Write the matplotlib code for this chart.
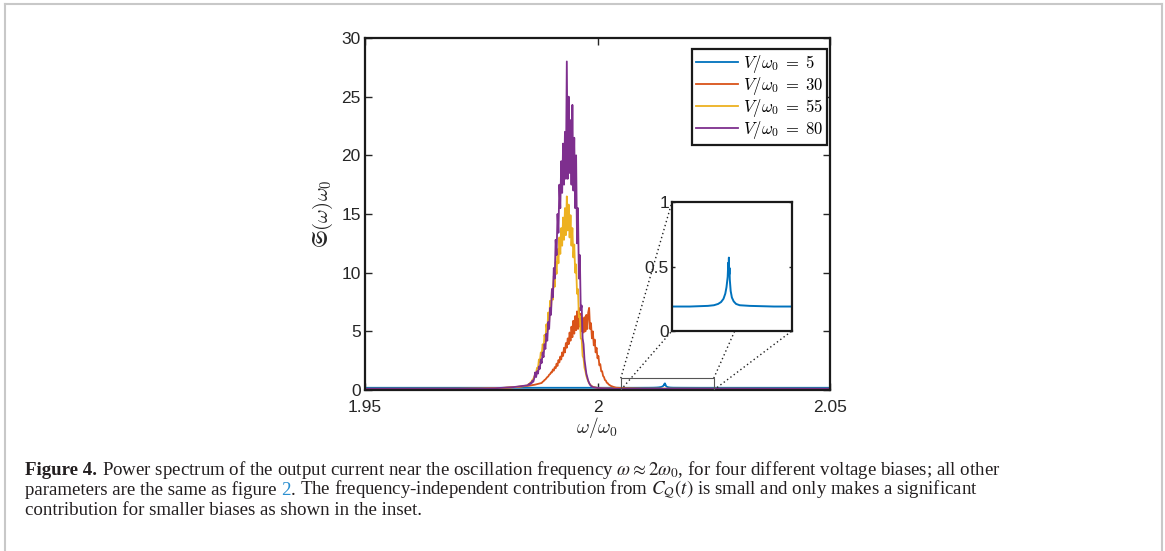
import matplotlib
matplotlib.use('Agg')
import matplotlib.pyplot as plt
from matplotlib.patches import Rectangle
from matplotlib.lines import Line2D

plt.rcParams['font.family'] = 'Liberation Sans'
plt.rcParams['mathtext.fontset'] = 'cm'

# ---------------- data ----------------
labels = [r'$V/\omega_0\;=\;5$', r'$V/\omega_0\;=\;30$', r'$V/\omega_0\;=\;55$', r'$V/\omega_0\;=\;80$']
colors = ['#0072BD', '#D95319', '#EDB120', '#7E2F8E']

# V/w0 = 5 : flat background with small peak (shown in inset)
x_v5 = [1.950, 2.000, 2.008, 2.011, 2.012, 2.0127, 2.0132, 2.0136, 2.0139, 2.0141,
        2.0143, 2.0144, 2.01445, 2.0145, 2.01455, 2.0146, 2.01465, 2.0148, 2.0150,
        2.0153, 2.0157, 2.0163, 2.018, 2.022, 2.050]
y_v5 = [0.19, 0.19, 0.19, 0.195, 0.20, 0.21, 0.225, 0.25, 0.29, 0.34,
        0.42, 0.53, 0.47, 0.57, 0.44, 0.49, 0.40, 0.31, 0.26,
        0.23, 0.21, 0.20, 0.195, 0.19, 0.19]

# V/w0 = 30
x_v30 = [1.950, 1.975, 1.980, 1.983, 1.985, 1.9865,
         1.9880, 1.9882, 1.9884, 1.9886, 1.9888, 1.9890, 1.9892, 1.9894, 1.9896, 1.9898,
         1.9900, 1.9902, 1.9904, 1.9906, 1.9908, 1.9910, 1.9912, 1.9914, 1.9916, 1.9918,
         1.9920, 1.9922, 1.9924, 1.9926, 1.9928, 1.9930, 1.9932, 1.9934, 1.9936, 1.9938,
         1.9940, 1.9942, 1.9944, 1.9946, 1.9948, 1.9950, 1.9952, 1.9954, 1.9956, 1.9958,
         1.9960, 1.9962, 1.9964, 1.9966, 1.9968, 1.9970, 1.9972, 1.9974, 1.9976, 1.9978,
         1.9980, 1.9982, 1.9984, 1.9986, 1.9988, 1.9990, 1.9992, 1.9994, 1.9996, 1.9998,
         2.0000, 2.0002, 2.0004, 2.0006, 2.0008, 2.0010, 2.0012, 2.0014, 2.0016, 2.0018,
         2.0020, 2.0022, 2.0024, 2.0026, 2.0028, 2.0030, 2.0034, 2.0038, 2.0040,
         2.006, 2.010, 2.050]
y_v30 = [0.10, 0.12, 0.18, 0.27, 0.35, 0.45,
         0.60, 0.70, 0.75, 0.85, 0.90, 1.00, 1.10, 1.15, 1.30, 1.35,
         1.50, 1.50, 1.75, 1.65, 1.95, 1.85, 2.25, 2.05, 2.55, 2.35,
         2.85, 2.60, 3.20, 2.90, 3.60, 3.20, 4.00, 3.60, 4.40, 3.90,
         4.90, 4.20, 5.40, 4.50, 5.90, 4.80, 6.30, 5.10, 6.70, 5.20,
         7.00, 5.40, 6.50, 5.00, 6.10, 4.90, 6.20, 5.00, 6.40, 5.20,
         6.60, 7.00, 5.20, 5.70, 4.40, 5.00, 3.80, 4.30, 3.20, 3.60,
         2.70, 2.90, 2.10, 2.20, 1.60, 1.60, 1.20, 1.10, 0.85, 0.80,
         0.62, 0.58, 0.47, 0.43, 0.36, 0.33, 0.27, 0.22, 0.20,
         0.15, 0.12, 0.10]

# V/w0 = 55
x_v55 = [1.950, 1.970, 1.975, 1.978, 1.980, 1.982, 1.983, 1.984,
         1.9850, 1.9852, 1.9854, 1.9856, 1.9858, 1.9860, 1.9862, 1.9864, 1.9866, 1.9868,
         1.9870, 1.9872, 1.9874, 1.9876, 1.9878, 1.9880, 1.9882, 1.9884, 1.9886, 1.9888,
         1.9890, 1.9892, 1.9894, 1.9896, 1.9898, 1.9900, 1.9902, 1.9904, 1.9906, 1.9908,
         1.9910, 1.9912, 1.9914, 1.9916, 1.9918, 1.9920, 1.9922, 1.9924, 1.9926, 1.9928,
         1.9930, 1.9932, 1.9934, 1.9936, 1.9938, 1.9940, 1.9942, 1.9944, 1.9946, 1.9948,
         1.9950, 1.9952, 1.9954, 1.9956, 1.9958, 1.9960, 1.9962, 1.9964, 1.9966, 1.9968,
         1.9970, 1.9972, 1.9974, 1.9976, 1.9978, 1.9980, 1.9982, 1.9984, 1.9986, 1.9988,
         1.9990, 2.000, 2.002, 2.005, 2.050]
y_v55 = [0.10, 0.10, 0.12, 0.15, 0.19, 0.24, 0.28, 0.33,
         0.40, 0.50, 0.55, 0.65, 0.70, 0.85, 0.95, 1.15, 1.30, 1.50,
         1.90, 1.85, 2.60, 2.40, 3.20, 3.00, 3.90, 3.50, 4.70, 4.20,
         5.60, 5.00, 6.60, 5.80, 7.60, 6.80, 8.60, 7.70, 9.70, 8.80,
         10.9, 9.90, 12.0, 10.8, 13.0, 11.6, 13.8, 12.3, 14.7, 12.8,
         15.5, 13.2, 16.5, 13.6, 15.8, 13.0, 14.9, 12.3, 13.8, 11.3,
         12.4, 10.0, 10.7, 8.20, 8.60, 6.20, 6.30, 4.40, 4.30, 2.90,
         2.70, 1.90, 1.60, 1.20, 0.95, 0.75, 0.58, 0.47, 0.39, 0.33,
         0.28, 0.18, 0.13, 0.10, 0.10]

# V/w0 = 80
x_v80 = [1.950, 1.970, 1.975, 1.978, 1.980, 1.982, 1.983, 1.984,
         1.9850, 1.9852, 1.9854, 1.9856, 1.9858, 1.9860, 1.9862, 1.9864, 1.9866, 1.9868,
         1.9870, 1.9872, 1.9874, 1.9876, 1.9878, 1.9880, 1.9882, 1.9884, 1.9886, 1.9888,
         1.9890, 1.9892, 1.9894, 1.9896, 1.9898, 1.9900, 1.9902, 1.9904, 1.9906, 1.9908,
         1.9910, 1.9912, 1.9914, 1.9916, 1.9918, 1.9920, 1.9922, 1.9924, 1.9926, 1.9928,
         1.9930, 1.9932, 1.9934, 1.9936, 1.9938, 1.9940, 1.9942, 1.9944, 1.9946, 1.9948,
         1.9950, 1.9952, 1.9954, 1.9956, 1.9958, 1.9960, 1.9962, 1.9964, 1.9966, 1.9968,
         1.9970, 1.9972, 1.9974, 1.9976, 1.9978, 1.9980, 1.9982, 1.9984, 1.9986, 1.9988,
         1.9990, 2.000, 2.002, 2.005, 2.050]
y_v80 = [0.10, 0.10, 0.12, 0.15, 0.20, 0.25, 0.30, 0.35,
         0.40, 0.50, 0.45, 0.60, 0.55, 0.80, 0.70, 1.00, 1.50, 1.10,
         1.60, 1.40, 2.00, 1.80, 2.60, 2.30, 3.20, 2.80, 3.90, 3.50,
         4.80, 4.20, 5.80, 5.20, 7.00, 6.40, 8.60, 7.90, 10.4, 9.50,
         12.8, 11.5, 15.0, 13.4, 17.5, 15.5, 19.5, 16.8, 21.0, 17.5,
         22.0, 18.0, 28.0, 18.0, 25.0, 18.5, 23.0, 17.5, 24.3, 17.0,
         21.5, 15.5, 20.0, 12.5, 15.5, 9.50, 11.5, 6.80, 7.20, 4.40,
         3.90, 2.60, 2.00, 1.40, 1.10, 0.80, 0.60, 0.45, 0.35, 0.30,
         0.25, 0.18, 0.13, 0.10, 0.10]

series_x = [x_v5, x_v30, x_v55, x_v80]
series_y = [y_v5, y_v30, y_v55, y_v80]

# zoom window shown in the inset
zoom_x = (2.005, 2.025)
zoom_y = (0, 1)

caption_1 = ("Power spectrum of the output current near the oscillation frequency "
             r"$\omega \approx 2\omega_0$, for four different voltage biases; all other")
caption_2a = "parameters are the same as figure"
caption_2b = ("The frequency-independent contribution from "
              r"$C_{\mathcal{Q}}(t)$ is small and only makes a significant")
caption_3 = "contribution for smaller biases as shown in the inset."

# ---------------- figure ----------------
W, H = 1165, 551
fig = plt.figure(figsize=(W / 100, H / 100), dpi=100)
ax = fig.add_axes([365 / W, 1 - 390 / H, 465 / W, 352 / H])

for xs, ys, c, lab in zip(series_x, series_y, colors, labels):
    ax.plot(xs, ys, color=c, lw=1.3, label=lab, zorder=2)

ax.set_xlim(1.95, 2.05)
ax.set_ylim(0, 30)
ax.set_xticks([1.95, 2.0, 2.05])
ax.set_xticklabels(['1.95', '2', '2.05'])
ax.set_yticks(range(0, 31, 5))
ax.tick_params(direction='in', top=True, right=True, length=5, width=1,
               labelsize=12.5, colors='#262626', pad=3)
ax.tick_params(axis='x', pad=7)
for sp in ax.spines.values():
    sp.set_linewidth(1.6)
    sp.set_color('#1a1a1a')

ax.set_xlabel(r'$\omega/\omega_0$', fontsize=14, color='#262626')
ax.xaxis.set_label_coords(0.5, -0.072)
ax.set_ylabel(r'$\mathfrak{S}(\omega)\omega_0$', fontsize=15, color='#262626')
ax.yaxis.set_label_coords(-0.064, 0.5)

leg = ax.legend(loc='upper right', bbox_to_anchor=(0.9935, 0.9688), borderaxespad=0,
                fontsize=12, frameon=True, fancybox=False, framealpha=1,
                edgecolor='#1a1a1a', handlelength=2.5, handletextpad=0.3,
                labelspacing=0.0, borderpad=0.25)
leg.get_frame().set_linewidth(1.6)

# zoom rectangle
ax.add_patch(Rectangle((zoom_x[0], zoom_y[0]), zoom_x[1] - zoom_x[0], zoom_y[1] - zoom_y[0],
                       fill=False, ec='#555555', lw=0.8, zorder=4))

# inset axes (placed in data coords of the main axes)
ins_box = [2.016, 5.03, 0.0258, 10.97]
axins = ax.inset_axes(ins_box, transform=ax.transData, zorder=5)
axins.plot(x_v5, y_v5, color=colors[0], lw=1.4)
axins.set_xlim(*zoom_x)
axins.set_ylim(*zoom_y)
axins.set_xticks([])
axins.set_yticks([0, 0.5, 1])
axins.set_yticklabels(['0', '0.5', '1'])
axins.tick_params(direction='in', right=True, length=2, width=1,
                  labelsize=12.5, colors='#262626', pad=2)
for sp in axins.spines.values():
    sp.set_linewidth(1.6)
    sp.set_color('#1a1a1a')

# dotted connector lines (rect corners -> inset corners)
x0, y0, w, h = ins_box
corners_rect = [(zoom_x[0], zoom_y[1]), (zoom_x[0], zoom_y[0]),
                (zoom_x[1], zoom_y[1]), (zoom_x[1], zoom_y[0])]
corners_ins = [(x0, y0 + h), (x0, y0), (x0 + w, y0 + h), (x0 + w, y0)]
for (ax_, ay_), (bx_, by_) in zip(corners_rect, corners_ins):
    ax.plot([ax_, bx_], [ay_, by_], ls=(0, (1, 2)), color='#222222', lw=1.0, zorder=3,
            clip_on=False)

# ---------------- caption ----------------
renderer = fig.canvas.get_renderer()
cap_kw = dict(fontsize=13.6, family='Liberation Serif', va='baseline',
              math_fontfamily='stix', color='#231f20')


def text_width(s, **kw):
    t = fig.text(0, 0, s, **kw)
    w_ = t.get_window_extent(renderer).width
    t.remove()
    return w_


space = text_width('a a', **cap_kw) - text_width('aa', **cap_kw)


def caption_line(x_px, y_px, parts):
    for s, extra, gap in parts:
        kw = dict(cap_kw)
        kw.update(extra)
        t = fig.text(x_px / W, 1 - y_px / H, s, **kw)
        x_px += t.get_window_extent(renderer).width + gap


caption_line(25, 475, [('Figure 4.', {'weight': 'bold'}, space), (caption_1, {}, 0)])
caption_line(25, 495, [(caption_2a, {}, space), ('2', {'color': '#2a8fd0'}, 0),
                       ('.', {}, space), (caption_2b, {}, 0)])
caption_line(25, 515, [(caption_3, {}, 0)])

# light gray frame around the figure panel
frame_kw = dict(transform=fig.transFigure, color='#c8c8c8', lw=1.5)
fig.add_artist(Line2D([5 / W, 5 / W], [0, 1 - 4 / H], **frame_kw))
fig.add_artist(Line2D([5 / W, 1162 / W], [1 - 4 / H, 1 - 4 / H], **frame_kw))
fig.add_artist(Line2D([1162 / W, 1162 / W], [0, 1 - 4 / H], **frame_kw))

fig.savefig('out.png', dpi=100)
